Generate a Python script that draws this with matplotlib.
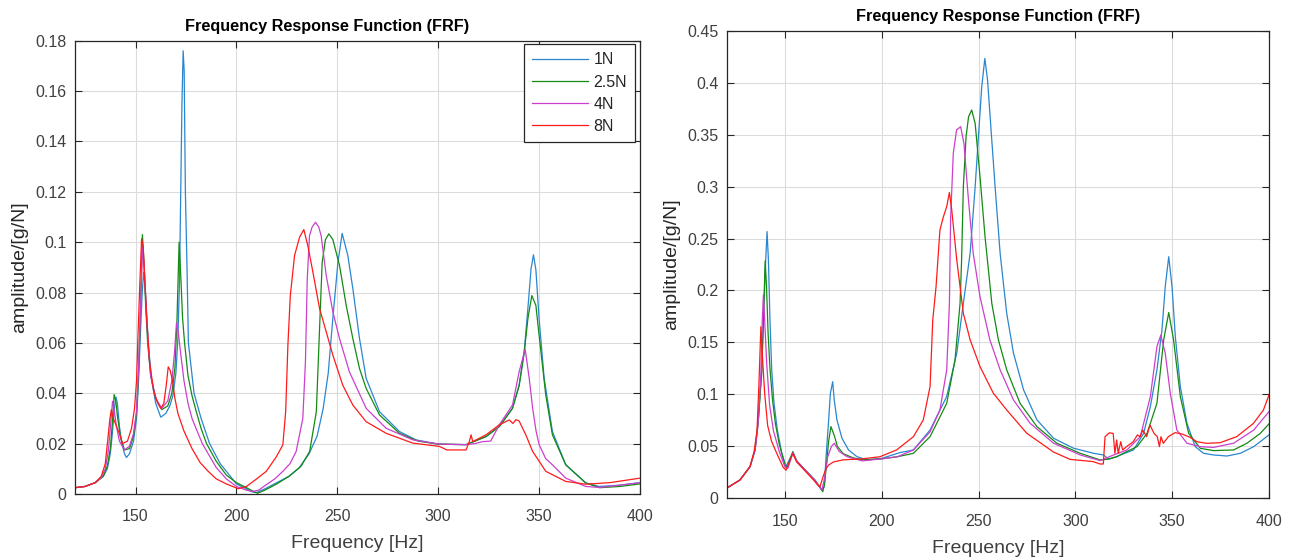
import matplotlib
matplotlib.use('Agg')
import matplotlib.pyplot as plt
from matplotlib.ticker import FuncFormatter

plt.rcParams['font.family'] = ['Liberation Sans', 'DejaVu Sans']

# ---------------- data: left panel ----------------
labels = ['1N', '2.5N', '4N', '8N']
colors = ['#2a86cf', '#138a13', '#cc3fcc', '#ff1a1a']

fL_1N = [120, 125, 130, 134, 136, 137.5, 138.5, 139.5, 140.3, 141, 142, 143, 144.5, 145.5, 147, 149,
         150.5, 151.5, 152.5, 153.3, 154, 154.8, 155.6, 156.5, 158, 160, 162.5, 165, 167, 168.5, 170,
         171, 171.8, 172.4, 173, 173.6, 174.1, 174.7, 175.5, 176.2, 179, 182.5, 186.7, 192, 197, 200,
         205, 208, 210, 214, 220, 226, 231, 236, 240, 243, 245.5, 247.8, 250.3, 252.4, 255.2, 257.7,
         261, 264.3, 270.9, 280.8, 289, 300, 313.8, 323.7, 330.3, 336.8, 340.1, 342.6, 344.3, 346,
         347.2, 348.4, 350, 352.5, 356.6, 363.2, 373.1, 379.7, 390, 400]
aL_1N = [0.0025, 0.003, 0.0045, 0.007, 0.010, 0.016, 0.024, 0.034, 0.0385, 0.036, 0.027, 0.021, 0.016,
         0.0145, 0.016, 0.021, 0.030, 0.045, 0.065, 0.080, 0.088, 0.082, 0.070, 0.058, 0.045, 0.036,
         0.0305, 0.032, 0.035, 0.039, 0.048, 0.062, 0.085, 0.120, 0.155, 0.176, 0.168, 0.120, 0.090,
         0.060, 0.040, 0.030, 0.020, 0.012, 0.007, 0.004, 0.002, 0.0008, 0.0006, 0.002, 0.0045, 0.007,
         0.0103, 0.016, 0.023, 0.034, 0.048, 0.070, 0.092, 0.1035, 0.0947, 0.0815, 0.0617, 0.0459,
         0.0327, 0.0248, 0.0215, 0.0198, 0.0196, 0.0228, 0.0268, 0.034, 0.0432, 0.0565, 0.0723, 0.0894,
         0.095, 0.089, 0.0696, 0.0459, 0.0248, 0.0116, 0.0044, 0.003, 0.0035, 0.0045]

fL_25N = [120, 125, 130, 134, 136, 137.5, 138.5, 139.4, 140.2, 141, 142.5, 144.5, 147, 149, 150.5, 151.5,
          152.5, 153.4, 154.2, 155, 156, 157.5, 160, 163, 166, 168, 169.5, 170.5, 171.6, 172.5, 173.3,
          174.3, 176, 178, 180, 182.5, 185.2, 190, 195, 200, 205, 208, 210.5, 214, 220, 226, 232, 236.3,
          239.6, 241.2, 242.5, 244.1, 245.8, 247.8, 251.1, 254.4, 257.7, 261, 264.3, 270.9, 280.8, 290,
          300, 313.8, 323.7, 330.3, 336.8, 340.1, 342.6, 344.5, 346.4, 348.4, 350, 353.3, 356.6, 363.2,
          373.1, 380, 390, 400]
aL_25N = [0.0025, 0.003, 0.0045, 0.007, 0.011, 0.018, 0.028, 0.0395, 0.037, 0.031, 0.023, 0.0175, 0.018,
          0.023, 0.032, 0.048, 0.075, 0.103, 0.092, 0.075, 0.060, 0.047, 0.038, 0.0335, 0.035, 0.040,
          0.050, 0.068, 0.100, 0.085, 0.070, 0.060, 0.047, 0.039, 0.033, 0.026, 0.020, 0.013, 0.0075,
          0.0045, 0.0025, 0.0012, 0.0003, 0.0015, 0.004, 0.007, 0.011, 0.0169, 0.0327, 0.0657, 0.092,
          0.101, 0.1033, 0.101, 0.0907, 0.0749, 0.0617, 0.0498, 0.0419, 0.0314, 0.0241, 0.021, 0.0198,
          0.0196, 0.0228, 0.0268, 0.034, 0.043, 0.056, 0.070, 0.0788, 0.0749, 0.063, 0.0393, 0.0235,
          0.0116, 0.0044, 0.0025, 0.003, 0.004]

fL_4N = [120, 125, 130, 133, 135, 136.5, 137.5, 138.6, 139.5, 140.5, 142, 144.5, 147, 149, 150.5, 151.5,
         152.5, 153.5, 154.3, 155.2, 156.2, 157.5, 160, 163, 166, 168, 169.3, 170.3, 171.2, 172.5, 174,
         176, 178, 180, 183.1, 186, 190, 195, 200, 205, 208, 211, 214.8, 219, 223, 226.5, 229.6, 232.9,
         234.2, 235.1, 236.2, 237.5, 239.2, 240.8, 242, 244.5, 247.8, 251.1, 256, 264.3, 274.2, 287.4,
         300.6, 313.8, 318, 322, 326, 330.3, 336.8, 340.1, 343.1, 345.1, 346.8, 348.5, 350, 353.3,
         356.6, 363.2, 373.1, 380, 390, 400]
aL_4N = [0.0025, 0.003, 0.0045, 0.0065, 0.010, 0.017, 0.026, 0.0368, 0.033, 0.027, 0.021, 0.0175, 0.019,
         0.024, 0.033, 0.050, 0.075, 0.098, 0.090, 0.075, 0.060, 0.047, 0.038, 0.034, 0.037, 0.045,
         0.056, 0.068, 0.064, 0.055, 0.045, 0.036, 0.030, 0.026, 0.020, 0.016, 0.0105, 0.006, 0.003,
         0.0015, 0.001, 0.0015, 0.0037, 0.006, 0.009, 0.012, 0.0169, 0.030, 0.0525, 0.0854, 0.1025,
         0.106, 0.1079, 0.106, 0.1025, 0.0868, 0.0723, 0.0617, 0.0485, 0.034, 0.0261, 0.0215, 0.0198,
         0.0196, 0.020, 0.0208, 0.021, 0.0275, 0.0353, 0.0485, 0.0575, 0.0459, 0.034, 0.025, 0.0196,
         0.014, 0.0116, 0.0063, 0.003, 0.0026, 0.0035, 0.0045]

fL_8N = [120, 125, 130, 133, 135, 136.3, 137.3, 138, 139, 140, 142, 143.5, 146, 148, 149.5, 150.5,
         151.3, 152.2, 153, 153.8, 154.6, 155.5, 157, 159, 161, 162.5, 164, 165.2, 166.2, 167.2, 168.3,
         169.5, 171, 174, 178, 182, 186, 190, 195, 200.9, 205, 210, 214.8, 219.8, 223, 224.4, 225.5,
         226.7, 228.8, 231.3, 233.4, 235.4, 237.9, 241.2, 244.5, 247.8, 252.7, 257.7, 264.3, 274.2,
         287.4, 300.6, 304.3, 313.8, 315.4, 316.3, 317.1, 323.7, 330.3, 335.2, 337, 338.5, 340.1,
         343.4, 346.8, 353.3, 363.2, 373.1, 385, 400]
aL_8N = [0.0025, 0.003, 0.0045, 0.007, 0.012, 0.022, 0.030, 0.0334, 0.030, 0.028, 0.024, 0.020, 0.021,
         0.026, 0.034, 0.045, 0.065, 0.085, 0.1013, 0.098, 0.085, 0.070, 0.052, 0.041, 0.036, 0.034,
         0.036, 0.043, 0.0505, 0.049, 0.045, 0.038, 0.032, 0.025, 0.018, 0.0125, 0.009, 0.006, 0.004,
         0.0021, 0.003, 0.006, 0.009, 0.0148, 0.0195, 0.0327, 0.059, 0.0788, 0.0947, 0.102, 0.105,
         0.0985, 0.0881, 0.0736, 0.0644, 0.0551, 0.0432, 0.0353, 0.0287, 0.0241, 0.0202, 0.0189, 0.0175,
         0.0175, 0.0208, 0.0235, 0.0208, 0.0235, 0.0275, 0.0294, 0.028, 0.0295, 0.029, 0.0235, 0.0169,
         0.009, 0.005, 0.0039, 0.0045, 0.0063]

# ---------------- data: right panel ----------------
fR_1N = [120, 126.7, 131.9, 134.5, 136.2, 137.9, 139.1, 140, 140.7, 141.4, 142.2, 143.1, 144.3, 146, 148.3,
         150.5, 151.7, 154, 156, 161.2, 165.5, 169, 170.2, 171.3, 172.5, 173.4, 174.6, 175.4, 176.8,
         179.4, 182.8, 187.1, 192.3, 200, 209.4, 216.3, 224.9, 233.5, 238.7, 242.1, 245.6, 248.2, 249.9,
         251.6, 253.2, 254.6, 256.3, 258.5, 261.1, 264.5, 268, 273.2, 280.1, 288.7, 299, 309.4, 314.5,
         316.3, 317, 321.3, 323.2, 330, 335.2, 338.7, 342.1, 344.7, 346.4, 348.2, 349.9, 351.6, 354.2,
         357.6, 361.9, 366.2, 371.4, 378.3, 385.2, 392.1, 400]
aR_1N = [0.01, 0.0176, 0.0305, 0.0465, 0.0754, 0.1235, 0.1877, 0.2294, 0.2567, 0.229, 0.1716, 0.1235,
         0.0914, 0.0658, 0.0433, 0.0305, 0.0353, 0.044, 0.0353, 0.0257, 0.0176, 0.008, 0.011, 0.0433,
         0.075, 0.101, 0.1122, 0.0946, 0.0754, 0.0578, 0.0465, 0.0401, 0.0369, 0.0385, 0.044, 0.0465,
         0.0657, 0.098, 0.1397, 0.1876, 0.2357, 0.2999, 0.348, 0.3961, 0.4233, 0.4025, 0.3576, 0.2999,
         0.2357, 0.178, 0.1397, 0.1044, 0.0755, 0.0578, 0.0482, 0.0433, 0.0417, 0.039, 0.0375, 0.040,
         0.0417, 0.0465, 0.0625, 0.0882, 0.1235, 0.162, 0.2037, 0.2325, 0.2037, 0.1556, 0.1075, 0.0722,
         0.0497, 0.0433, 0.0417, 0.0407, 0.0433, 0.0497, 0.061]

fR_25N = [120, 126.7, 131.9, 134.5, 136.2, 137.9, 139, 139.7, 140.4, 141.2, 142.2, 143.5, 145, 147, 150,
          151.2, 154, 156, 161, 165.5, 169.5, 170.5, 171.5, 172.5, 173.7, 175.5, 177, 180, 185, 190, 200,
          208, 216.3, 224.9, 233.5, 237.8, 240.4, 241.2, 242.1, 243.5, 244.8, 246.4, 248.2, 250.7, 253.3,
          256.8, 260.2, 264.5, 271.4, 280.1, 290.4, 302.5, 312.8, 316.3, 321.3, 326.6, 331.8, 337, 342.1,
          345.6, 348.2, 350.7, 354.2, 358.5, 364.5, 371.4, 381.7, 388.6, 395.5, 400]
aR_25N = [0.01, 0.0176, 0.0305, 0.0465, 0.0754, 0.12, 0.18, 0.2285, 0.205, 0.16, 0.125, 0.095, 0.072,
          0.052, 0.032, 0.030, 0.045, 0.036, 0.026, 0.017, 0.0064, 0.015, 0.035, 0.055, 0.069, 0.060,
          0.050, 0.043, 0.039, 0.037, 0.038, 0.040, 0.0433, 0.0593, 0.0914, 0.1332, 0.1876, 0.2293,
          0.2999, 0.348, 0.3672, 0.3737, 0.3608, 0.3095, 0.2518, 0.1876, 0.1525, 0.1236, 0.0914, 0.069,
          0.053, 0.0433, 0.0369, 0.0375, 0.040, 0.045, 0.0497, 0.0625, 0.0914, 0.1525, 0.1788, 0.1525,
          0.0978, 0.0625, 0.0481, 0.0459, 0.0465, 0.053, 0.0625, 0.0716]

fR_4N = [120, 126.7, 131.9, 134.5, 136, 137.5, 138.2, 138.8, 139.5, 140.5, 142, 144, 147, 150, 151.5, 154,
         156, 161, 165, 169, 170.5, 172, 174, 175.4, 178, 182, 190, 200, 208, 216.3, 224.9, 230, 233.5,
         234.9, 235.5, 236.9, 238.6, 240.7, 242.4, 244.6, 247.2, 250.7, 255.8, 261.1, 268, 276.6, 288.7,
         302.5, 312.8, 319.7, 326.6, 333.5, 338.7, 342.1, 344.1, 346.4, 349, 352.4, 357.6, 364.5, 371.4,
         381.7, 392.1, 400]
aR_4N = [0.01, 0.0176, 0.0305, 0.0465, 0.07, 0.12, 0.17, 0.1958, 0.17, 0.13, 0.09, 0.065, 0.045, 0.03,
         0.029, 0.044, 0.036, 0.026, 0.018, 0.008, 0.02, 0.04, 0.05, 0.053, 0.045, 0.04, 0.036, 0.038,
         0.040, 0.0465, 0.064, 0.085, 0.1235, 0.1876, 0.268, 0.332, 0.3545, 0.3576, 0.3416, 0.2903,
         0.2357, 0.194, 0.1525, 0.1236, 0.0946, 0.0722, 0.053, 0.0417, 0.0363, 0.0417, 0.0465, 0.0593,
         0.0978, 0.146, 0.157, 0.1397, 0.101, 0.0657, 0.053, 0.0497, 0.049, 0.053, 0.0657, 0.0834]

fR_8N = [120, 126.7, 131.9, 134, 135.5, 136.5, 137.5, 138.5, 139.5, 141, 143, 146, 149, 150.5, 154, 156,
         161, 165, 166.5, 168, 169.5, 171, 172.5, 175, 180, 190, 199, 207.6, 216.3, 221.4, 224.9, 226.3,
         228, 230, 231.8, 233.5, 234.9, 236.1, 238.7, 242.1, 245.6, 250.7, 257.6, 264.5, 274.9, 288.7,
         297.2, 309.2, 312.7, 314.4, 315.3, 317.5, 319.5, 320.4, 321.3, 322.1, 323.4, 324.4, 326.8,
         329.9, 332, 333.4, 334.8, 336.8, 338.5, 340.6, 342.3, 343.4, 344.2, 345.4, 348, 351.5, 354.9,
         359.2, 362.7, 367.8, 374.7, 383.3, 391.9, 397.1, 400]
aR_8N = [0.01, 0.0176, 0.0305, 0.045, 0.065, 0.11, 0.1652, 0.13, 0.1, 0.07, 0.055, 0.042, 0.03, 0.027,
         0.043, 0.035, 0.025, 0.017, 0.0135, 0.011, 0.02, 0.028, 0.032, 0.035, 0.037, 0.038, 0.040, 0.0465,
         0.0593, 0.0754, 0.1075, 0.1716, 0.2037, 0.2582, 0.271, 0.2806, 0.2944, 0.2775, 0.2293, 0.178,
         0.1525, 0.1268, 0.1011, 0.085, 0.0625, 0.0445, 0.0375, 0.0353, 0.033, 0.033, 0.0593, 0.063,
         0.0625, 0.0433, 0.0561, 0.0433, 0.0545, 0.0465, 0.0503, 0.0545, 0.061, 0.0593, 0.0657, 0.0593,
         0.0705, 0.0625, 0.0593, 0.0497, 0.0593, 0.0529, 0.0593, 0.0632, 0.062, 0.0587, 0.0545, 0.0529,
         0.0535, 0.0593, 0.072, 0.0849, 0.0995]

left_series = [(fL_1N, aL_1N), (fL_25N, aL_25N), (fL_4N, aL_4N), (fL_8N, aL_8N)]
right_series = [(fR_1N, aR_1N), (fR_25N, aR_25N), (fR_4N, aR_4N), (fR_8N, aR_8N)]
x_ticks = [150, 200, 250, 300, 350, 400]
yticks_left = [0, 0.02, 0.04, 0.06, 0.08, 0.1, 0.12, 0.14, 0.16, 0.18]
yticks_right = [0, 0.05, 0.1, 0.15, 0.2, 0.25, 0.3, 0.35, 0.4, 0.45]

fig = plt.figure(figsize=(12.93, 5.6), dpi=100)
axL = fig.add_axes([75 / 1293, 1 - 494 / 560, 565 / 1293, 453.3 / 560])
axR = fig.add_axes([727 / 1293, 1 - 498.3 / 560, 542 / 1293, 467.6 / 560])

# MATLAB-like tick labels: 0, 0.02, ..., 0.1, 0.12
g_fmt = FuncFormatter(lambda v, p: '%g' % round(v, 4))

for ax, series, yt in [(axL, left_series, yticks_left), (axR, right_series, yticks_right)]:
    for (f, a), c, lab in zip(series, colors, labels):
        ax.plot(f, a, color=c, lw=0.9, label=lab)
    ax.set_xlim(120, 400)
    ax.set_ylim(yt[0], yt[-1])
    ax.set_xticks(x_ticks)
    ax.set_yticks(yt)
    ax.yaxis.set_major_formatter(g_fmt)
    ax.grid(True, color='#dcdcdc', lw=0.8)
    ax.set_axisbelow(True)
    ax.tick_params(direction='in', top=True, right=True, length=5, width=0.8,
                   colors='#262626', labelsize=11.5, labelcolor='#404040')
    ax.tick_params(axis='x', pad=11)
    ax.tick_params(axis='y', pad=6)
    for s in ax.spines.values():
        s.set_color('#262626')
        s.set_linewidth(0.9)
    ax.set_xlabel('Frequency [Hz]', fontsize=14, color='#404040', labelpad=8)
    ax.set_ylabel('amplitude/[g/N]', fontsize=14, color='#262626', labelpad=5)

axL.set_title('Frequency Response Function (FRF)', fontsize=11.7, fontweight='bold', x=0.446, pad=7)
axR.set_title('Frequency Response Function (FRF)', fontsize=11.7, fontweight='bold', pad=7)

leg = axL.legend(loc='upper right', bbox_to_anchor=(0.991, 0.992), borderaxespad=0,
                 fancybox=False, edgecolor='#262626', framealpha=1, fontsize=11.5,
                 handlelength=3.5, handletextpad=0.35, labelspacing=0.45, borderpad=0.5)
leg.get_frame().set_linewidth(0.9)
for t in leg.get_texts():
    t.set_color('#262626')

fig.savefig('out.png', dpi=100, facecolor='white')
